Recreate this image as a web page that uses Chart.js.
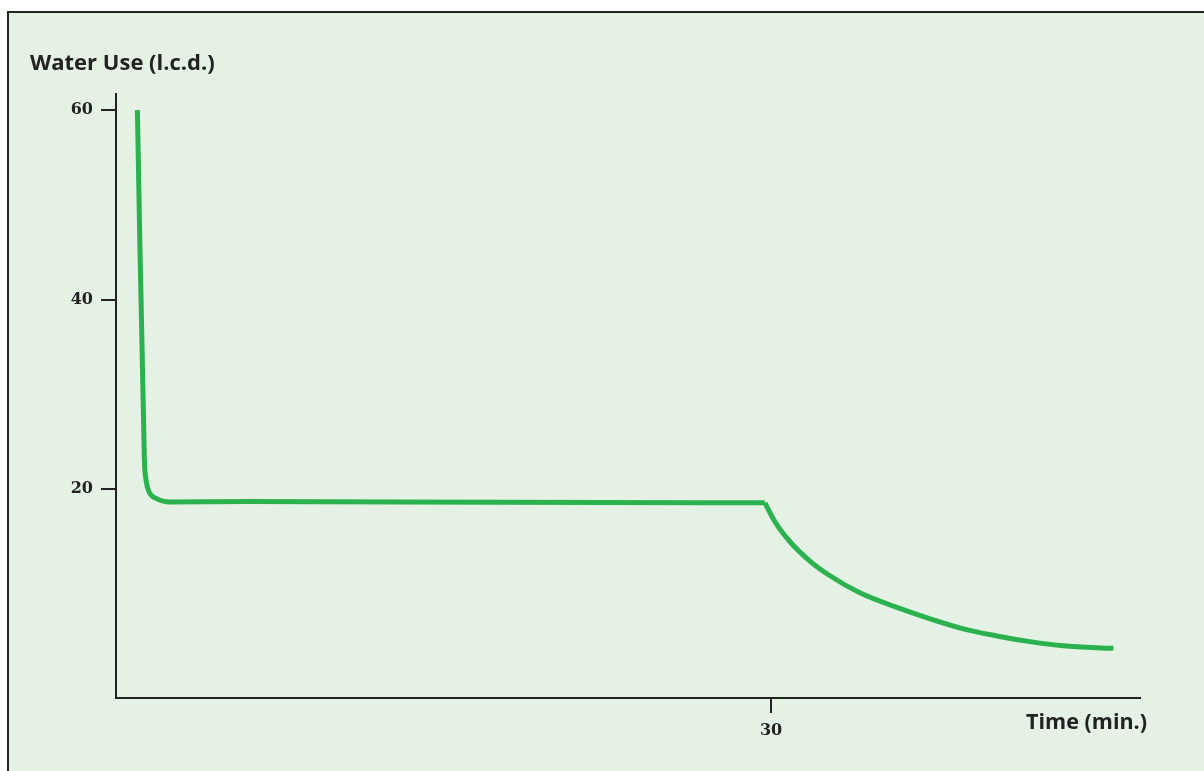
<!DOCTYPE html>
<html>
<head>
<meta charset="utf-8">
<script src="https://cdn.jsdelivr.net/npm/chart.js@4"></script>
<style>
  html, body { margin: 0; padding: 0; background: #fff; overflow: hidden; }
  #frame {
    position: absolute; left: 7px; top: 11px; width: 1220px; height: 790px;
    background: #e5f1e5; border: 2px solid #222; box-sizing: border-box;
  }
  #chart { position: absolute; left: 0; top: 0; }
</style>
</head>
<body>
<div id="frame"></div>
<canvas id="chart" width="1204" height="771"></canvas>
<script>
// ===================
// Data
// ===================
// steady use until the 30 min mark
const plateauTime = [0.98, 1.3, 1.38, 1.52, 1.85, 2.5, 6.0, 17.5, 29.72];
const plateauUse  = [60, 23.1, 20.9, 19.7, 19.0, 18.65, 18.7, 18.6, 18.55];
// decay after 30 min
const decayTime = [29.72, 30.18, 30.87, 31.78, 32.7, 34.07, 35.6, 38.81, 40.34, 41.86, 43.39, 45.68];
const decayUse  = [18.55, 16.55, 14.44, 12.4, 10.85, 9.05, 7.65, 5.25, 4.5, 3.9, 3.46, 3.19];
const yTicks = [20, 40, 60];
const xTicks = [30];
const yTitle = 'Water Use (l.c.d.)';
const xTitle = 'Time (min.)';

const ink = '#222';
const lineGreen = '#2bb24e';
const tickFont = { family: '"DejaVu Serif", serif', size: 16, weight: 'bold' };

// pick a font size so the text spans the wanted width
function fitFont(ctx, text, width) {
  let size = 14;
  ctx.font = `bold ${size}px "Open Sans", sans-serif`;
  while (ctx.measureText(text).width < width && size < 40) {
    size += 0.5;
    ctx.font = `bold ${size}px "Open Sans", sans-serif`;
  }
}

// axis titles drawn as text on the canvas
const titlesPlugin = {
  id: 'titles',
  afterDraw(chart) {
    const ctx = chart.ctx;
    ctx.save();
    ctx.fillStyle = ink;
    ctx.textBaseline = 'alphabetic';
    ctx.textAlign = 'left';
    fitFont(ctx, yTitle, 183);
    ctx.fillText(yTitle, 30, 70);
    ctx.textAlign = 'right';
    fitFont(ctx, xTitle, 119);
    ctx.fillText(xTitle, 1147, 729);
    ctx.restore();
  }
};

const lineStyle = {
  borderColor: lineGreen,
  borderWidth: 5,
  pointRadius: 0,
  fill: false,
  cubicInterpolationMode: 'monotone'
};

new Chart(document.getElementById('chart'), {
  type: 'line',
  data: {
    datasets: [
      { ...lineStyle, data: plateauTime.map((t, i) => ({ x: t, y: plateauUse[i] })) },
      { ...lineStyle, data: decayTime.map((t, i) => ({ x: t, y: decayUse[i] })) }
    ]
  },
  options: {
    responsive: false,
    animation: false,
    events: [],
    layout: { padding: { left: 0, top: 94, right: 64, bottom: 0 } },
    plugins: { legend: { display: false }, tooltip: { enabled: false } },
    scales: {
      x: {
        type: 'linear', min: 0, max: 46.9,
        afterBuildTicks: s => { s.ticks = xTicks.map(v => ({ value: v })); },
        afterFit: s => { s.height = 73; },
        border: { display: true, color: ink, width: 2 },
        grid: { display: true, drawOnChartArea: false, drawTicks: true, tickLength: 15, color: ink, lineWidth: 2 },
        ticks: { color: ink, font: tickFont, padding: 8, maxRotation: 0 }
      },
      y: {
        type: 'linear', min: -2.05, max: 61.7,
        afterBuildTicks: s => { s.ticks = yTicks.map(v => ({ value: v })); },
        afterFit: s => { s.width = 116; },
        border: { display: true, color: ink, width: 2 },
        grid: { display: true, drawOnChartArea: false, drawTicks: true, tickLength: 15, color: ink, lineWidth: 2 },
        ticks: { color: ink, font: tickFont, padding: 8 }
      }
    }
  },
  plugins: [titlesPlugin]
});
</script>
</body>
</html>
